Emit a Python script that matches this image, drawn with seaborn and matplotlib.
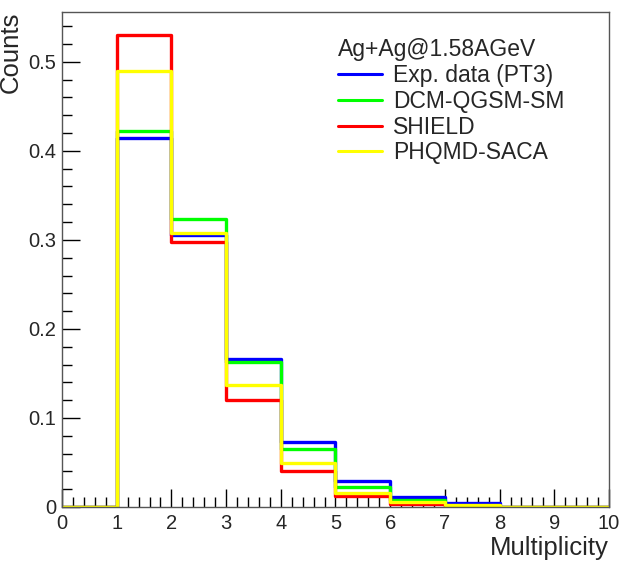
import numpy as np
import pandas as pd
import matplotlib
matplotlib.use('Agg')
import matplotlib.pyplot as plt
import seaborn as sns
from matplotlib.lines import Line2D
from matplotlib.ticker import MultipleLocator

sns.set_style('ticks')
plt.rcParams['font.family'] = ['Liberation Sans', 'DejaVu Sans']

# multiplicity bins 0..10, values per bin
edges = list(range(0, 11))
centers = [e + 0.5 for e in edges[:-1]]
exp_pt3 = [0.0, 0.414, 0.305, 0.166, 0.073, 0.029, 0.0115, 0.0048, 0.0005, 0.0003]
dcm_qgsm = [0.0, 0.422, 0.323, 0.163, 0.065, 0.022, 0.0075, 0.0012, 0.0, 0.0]
shield = [0.0, 0.530, 0.298, 0.120, 0.040, 0.0127, 0.0034, 0.001, 0.0, 0.0]
phqmd = [0.0, 0.490, 0.308, 0.137, 0.049, 0.0154, 0.0053, 0.002, 0.0, 0.0]

names = ['Exp. data (PT3)', 'DCM-QGSM-SM', 'SHIELD', 'PHQMD-SACA']
colors = ['#0000ff', '#00ff00', '#ff0000', '#ffff00']
series = [exp_pt3, dcm_qgsm, shield, phqmd]

fig = plt.figure(figsize=(6.21, 5.64), dpi=100)
ax = fig.add_axes([0.0998, 0.1011, 0.8809, 0.8776])

for name, col, vals in zip(names, colors, series):
    df = pd.DataFrame({'mult': centers, 'w': vals})
    sns.histplot(data=df, x='mult', weights='w', bins=edges, element='step',
                 fill=False, color=col, linewidth=2.4, ax=ax)

ax.set_xlim(0, 10)
ax.set_ylim(0, 0.556)
ax.xaxis.set_major_locator(MultipleLocator(1))
ax.xaxis.set_minor_locator(MultipleLocator(0.2))
ax.yaxis.set_major_locator(MultipleLocator(0.1))
ax.yaxis.set_minor_locator(MultipleLocator(0.02))
ax.set_yticks([0, 0.1, 0.2, 0.3, 0.4, 0.5])
ax.set_yticklabels(['0', '0.1', '0.2', '0.3', '0.4', '0.5'])
ax.tick_params(which='major', direction='in', length=13, width=1, labelsize=14.5, color='black')
ax.tick_params(which='minor', direction='in', length=7, width=1, color='black')
ax.tick_params(axis='x', pad=5)
ax.tick_params(axis='y', pad=4)
for s in ax.spines.values():
    s.set_color('#555555')
    s.set_linewidth(1)

ax.set_xlabel('Multiplicity', fontsize=18.5, loc='right', labelpad=2)
ax.set_ylabel('Counts', fontsize=18.5, loc='top', labelpad=4)

handles = [Line2D([0], [0], color=c, lw=2.2) for c in colors]
leg = ax.legend(handles, names, title='Ag+Ag@1.58AGeV', loc='upper left',
                bbox_to_anchor=(0.483, 0.97), frameon=False, fontsize=16.5,
                title_fontsize=16.5, handlelength=1.95, handletextpad=0.45,
                labelspacing=0.12, borderpad=0)
leg._legend_box.align = 'left'

fig.savefig('out.png', dpi=100)
